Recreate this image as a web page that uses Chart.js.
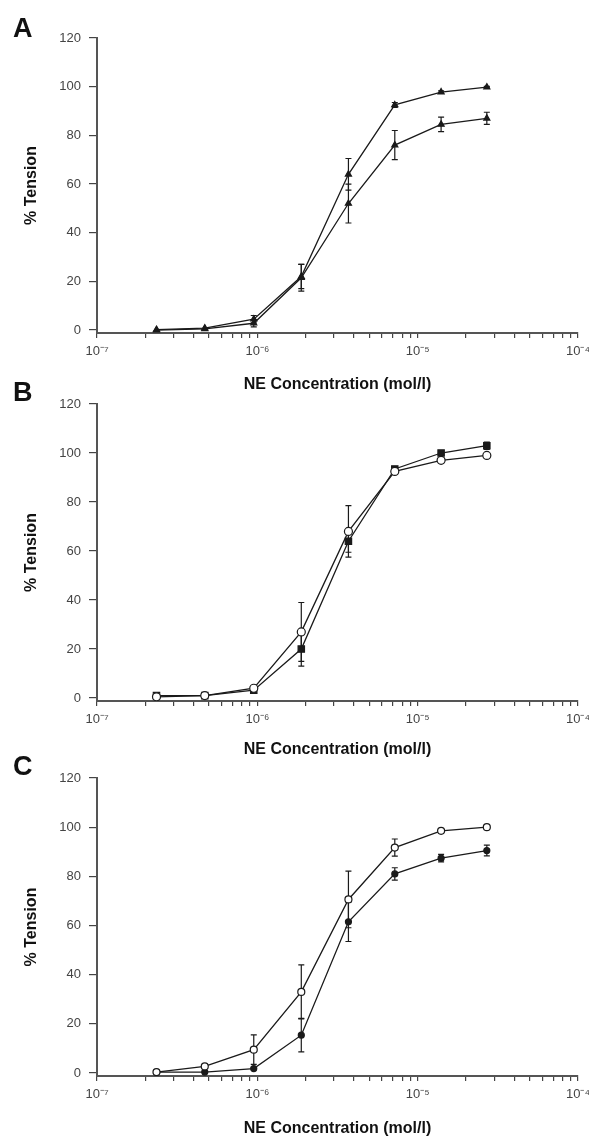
<!DOCTYPE html>
<html lang="en">

<head>
    <meta charset="UTF-8">
    <title>NE concentration - tension</title>
    <style>
        body { margin: 0; background: #fff; }
        #wrap { position: relative; width: 589px; height: 1137px; }
        canvas { position: absolute; left: 0; }
        .tag { position: absolute; left: 13px; font: bold 27px "Liberation Sans", Arial, sans-serif; line-height: 27px; color: #111; }
    </style>
</head>

<body>
    <div id="wrap">
        <canvas id="chartA" width="589" height="393" style="top:0px"></canvas>
        <canvas id="chartB" width="589" height="366" style="top:393px"></canvas>
        <canvas id="chartC" width="589" height="378" style="top:759px"></canvas>
        <div class="tag" style="top:15px">A</div>
        <div class="tag" style="top:379px">B</div>
        <div class="tag" style="top:753px">C</div>
    </div>

    <script src="https://cdn.jsdelivr.net/npm/chart.js@4.4.1/dist/chart.umd.min.js"></script>
    <script>
        // NE concentrations (mol/l)
        const doses = [2.35e-7, 4.7e-7, 9.5e-7, 1.88e-6, 3.7e-6, 7.2e-6, 1.4e-5, 2.7e-5];

        // panel A
        const tensionA1 = [0.2, 0.8, 4.5, 22, 64, 92.5, 97.8, 99.8];
        const errA1 = [0, 0, 1.5, 5, 6.5, 1, 0.5, 0.3];
        const tensionA2 = [0, 0.5, 2.8, 21.5, 52, 76, 84.5, 87];
        const errA2 = [0, 0, 1.5, 5.5, 8, 6, 3, 2.5];

        // panel B
        const tensionBopen = [0.5, 1, 4, 27, 68, 92.5, 97, 99];
        const errBopen = [0, 0, 0.5, 12, 10.5, 1, 1, 0.5];
        const tensionBfilled = [1, 1, 3.2, 20, 64, 93.5, 100, 103];
        const errBfilled = [0.5, 0, 0.5, 7, 4.5, 1, 1, 1.5];

        // panel C
        const tensionCopen = [0.4, 2.7, 9.5, 33, 70.6, 91.7, 98.5, 100];
        const errCopen = [0, 0.5, 6, 11, 11.5, 3.5, 0.5, 0];
        const tensionCfilled = [0.4, 0.4, 1.8, 15.4, 61.5, 81, 87.4, 90.5];
        const errCfilled = [0, 0, 0.5, 6.8, 8, 2.5, 1.5, 2.2];

        const xTickValues = [1e-7, 1e-6, 1e-5, 1e-4];
        const xTickLabels = ['10⁻⁷', '10⁻⁶', '10⁻⁵', '10⁻⁴'];
        const yTicks = [0, 20, 40, 60, 80, 100, 120];

        const family = '"Liberation Sans", Arial, sans-serif';
        const ink = '#1a1a1a';

        // minor + major tick positions of the log axis
        const xAllTicks = [];
        for (let d = -7; d < -4; d++) {
            for (let m = 1; m < 10; m++) xAllTicks.push(m * Math.pow(10, d));
        }
        xAllTicks.push(1e-4);

        const errorBarPlugin = {
            id: 'errorBars',
            beforeDatasetsDraw(chart) {
                const c = chart.ctx;
                const ys = chart.scales.y;
                c.save();
                c.strokeStyle = ink;
                c.lineWidth = 1.2;
                chart.data.datasets.forEach((ds, di) => {
                    if (!ds.errorBars) return;
                    const meta = chart.getDatasetMeta(di);
                    meta.data.forEach((pt, i) => {
                        const e = ds.errorBars[i];
                        if (!e) return;
                        const v = ds.data[i].y;
                        const top = ys.getPixelForValue(v + e);
                        const bot = ys.getPixelForValue(v - e);
                        c.beginPath();
                        c.moveTo(pt.x, top); c.lineTo(pt.x, bot);
                        c.moveTo(pt.x - 3, top); c.lineTo(pt.x + 3, top);
                        c.moveTo(pt.x - 3, bot); c.lineTo(pt.x + 3, bot);
                        c.stroke();
                    });
                });
                c.restore();
            }
        };

        function series(values, errors, style, radius, fillColor) {
            return {
                data: doses.map((d, i) => ({ x: d, y: values[i] })),
                errorBars: errors,
                borderColor: ink,
                borderWidth: 1.3,
                tension: 0,
                fill: false,
                pointStyle: style,
                pointRadius: radius,
                pointBackgroundColor: fillColor,
                pointBorderColor: ink,
                pointBorderWidth: 1.2
            };
        }

        function makePanel(id, datasets, box) {
            const canvas = document.getElementById(id);
            return new Chart(canvas, {
                type: 'line',
                data: { datasets: datasets },
                plugins: [errorBarPlugin],
                options: {
                    responsive: false,
                    animation: false,
                    layout: { padding: { top: box.plotTop, right: 11, left: 0, bottom: 0 } },
                    plugins: { legend: { display: false }, tooltip: { enabled: false } },
                    scales: {
                        x: {
                            type: 'logarithmic',
                            min: 1e-7,
                            max: 1e-4,
                            afterBuildTicks: sc => { sc.ticks = xAllTicks.map(v => ({ value: v })); },
                            afterFit: sc => {
                                sc.height = box.height - box.plotBottom;
                                sc.paddingLeft = 0;
                                sc.paddingRight = 0;
                            },
                            border: { color: '#555', width: 2 },
                            grid: { drawOnChartArea: false, tickLength: 5, color: '#444', lineWidth: 1.2 },
                            ticks: {
                                autoSkip: false,
                                maxRotation: 0,
                                padding: 6,
                                color: '#444',
                                font: { size: 13, family: family },
                                callback: v => {
                                    const k = xTickValues.findIndex(t => Math.abs(t - v) / t < 1e-6);
                                    return k >= 0 ? xTickLabels[k] : '';
                                }
                            },
                            title: {
                                display: true,
                                text: 'NE Concentration (mol/l)',
                                color: '#111',
                                font: { size: 16, weight: 'bold', family: family, lineHeight: 1 },
                                padding: { top: 0, bottom: box.titlePad }
                            }
                        },
                        y: {
                            min: -1.2,
                            max: 120,
                            afterBuildTicks: sc => { sc.ticks = yTicks.map(v => ({ value: v })); },
                            afterFit: sc => {
                                sc.width = 97;
                                sc.paddingTop = 0;
                                sc.paddingBottom = 0;
                            },
                            border: { color: '#555', width: 2 },
                            grid: { drawOnChartArea: false, tickLength: 8, color: '#444', lineWidth: 1.2 },
                            ticks: { padding: 8, color: '#444', font: { size: 13, family: family } },
                            title: {
                                display: true,
                                text: '% Tension',
                                color: '#111',
                                font: { size: 16, weight: 'bold', family: family, lineHeight: 1 },
                                padding: { top: 24, bottom: 0 }
                            }
                        }
                    }
                }
            });
        }

        makePanel('chartA', [
            series(tensionA2, errA2, 'triangle', 3.5, ink),
            series(tensionA1, errA1, 'triangle', 3.5, ink)
        ], { height: 393, plotTop: 38, plotBottom: 333, titlePad: 0 });

        makePanel('chartB', [
            series(tensionBopen, errBopen, 'circle', 4, '#fff'),
            series(tensionBfilled, errBfilled, 'rect', 4.5, ink)
        ], { height: 366, plotTop: 11, plotBottom: 308, titlePad: 1 });

        makePanel('chartC', [
            series(tensionCopen, errCopen, 'circle', 3.5, '#fff'),
            series(tensionCfilled, errCfilled, 'circle', 3, ink)
        ], { height: 378, plotTop: 19, plotBottom: 317, titlePad: 0 });
    </script>

</body>

</html>
